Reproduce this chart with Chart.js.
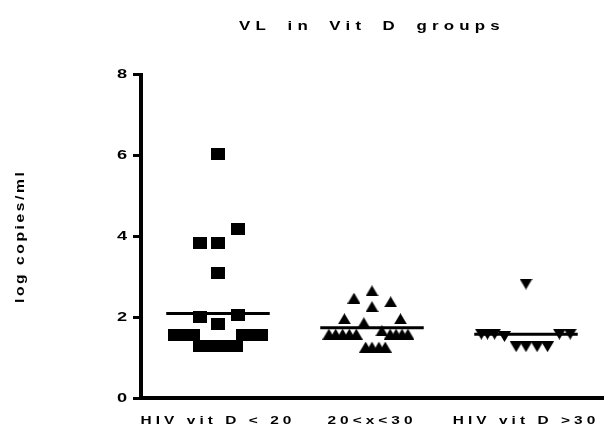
<!DOCTYPE html>
<html><head><meta charset="utf-8">
<script src="https://cdn.jsdelivr.net/npm/chart.js@4"></script>
<style>html,body{margin:0;padding:0;background:#fff;overflow:hidden;}</style>
</head><body>
<canvas id="c" width="611" height="430"></canvas>
<script>
// ---- data ----
const categories = ['HIV vit D < 20', '20<x<30', 'HIV vit D >30'];
const yTicks = [0, 2, 4, 6, 8];
const chartTitle = 'VL in Vit D groups';
const yTitle = 'log copies/ml';

const group1Values  = [6.04, 4.19, 3.83, 3.83, 3.08, 2.01, 2.06, 1.84, 1.57, 1.57, 1.57, 1.57, 1.57, 1.57, 1.28, 1.28, 1.28, 1.28, 1.28];
const group1Offsets = [0, 0.13, -0.12, 0, 0, -0.12, 0.13, 0, -0.28, -0.22, -0.16, 0.16, 0.22, 0.28, -0.12, -0.06, 0, 0.06, 0.12];

const group2Values  = [2.65, 2.47, 2.38, 2.26, 1.96, 1.86, 1.96, 1.58, 1.58, 1.58, 1.58, 1.58, 1.66, 1.58, 1.58, 1.58, 1.58, 1.26, 1.26, 1.26, 1.26];
const group2Offsets = [0, -0.117, 0.121, 0, -0.179, -0.053, 0.185, -0.28, -0.236, -0.191, -0.147, -0.102, 0.064, 0.118, 0.156, 0.195, 0.233, -0.041, 0, 0.045, 0.086];

const group3Values  = [2.82, 1.58, 1.58, 1.58, 1.52, 1.27, 1.27, 1.27, 1.27, 1.58, 1.58];
const group3Offsets = [0, -0.29, -0.25, -0.204, -0.14, -0.064, 0, 0.072, 0.14, 0.217, 0.287];

const groupMeans = [2.09, 1.74, 1.58];

// ---- styling ----
const FONT = '"Liberation Sans", Arial, Helvetica, sans-serif';
const MEAN_HALF_WIDTH = 0.336;

function marker(kind, w, h) {
  const c = document.createElement('canvas');
  c.width = w; c.height = h;
  const g = c.getContext('2d');
  g.fillStyle = '#000';
  g.beginPath();
  if (kind === 'square') { g.rect(0, 0, w, h); }
  else if (kind === 'up') { g.moveTo(w / 2, 0); g.lineTo(w, h); g.lineTo(0, h); g.closePath(); }
  else { g.moveTo(0, 0); g.lineTo(w, 0); g.lineTo(w / 2, h); g.closePath(); }
  g.fill();
  return c;
}
const squareMark = marker('square', 14, 12);
const upMark = marker('up', 13, 11);
const downMark = marker('down', 13, 11);

function pts(center, values, offsets) {
  return values.map((v, i) => ({ x: center + offsets[i], y: v }));
}
function meanLine(i) {
  return {
    type: 'line',
    data: [{ x: i - MEAN_HALF_WIDTH, y: groupMeans[i] }, { x: i + MEAN_HALF_WIDTH, y: groupMeans[i] }],
    borderColor: '#000', borderWidth: 3, pointRadius: 0, fill: false, order: 0
  };
}

// text drawn by the given method gets letter/word spacing and a horizontal stretch
function patch(obj, method, ls, ws, sx) {
  if (!obj || obj['_p_' + method]) return;
  const orig = obj[method];
  obj[method] = function (...args) {
    const ctx = this.ctx;
    ctx.save();
    ctx.letterSpacing = ls;
    ctx.wordSpacing = ws;
    const baseFill = CanvasRenderingContext2D.prototype.fillText;
    ctx.fillText = function (t, x, y) {
      this.save();
      this.translate(x, y);
      this.scale(sx, 1);
      baseFill.call(this, t, 0, 0);
      this.restore();
    };
    try { orig.apply(this, args); } finally {
      delete ctx.fillText;
      ctx.restore();
    }
  };
  obj['_p_' + method] = true;
}
const textSpacing = {
  id: 'textSpacing',
  afterLayout(chart) {
    patch(chart.scales.x, 'drawLabels', '2.9px', '0px', 1.4);
    patch(chart.scales.y, 'drawLabels', '0px', '0px', 1.4);
    patch(chart.scales.y, 'drawTitle', '2px', '0px', 1.3);
    patch(chart.titleBlock, 'draw', '4px', '5px', 1.3);
  }
};

Chart.defaults.color = '#000';
Chart.defaults.font.family = FONT;

new Chart(document.getElementById('c'), {
  type: 'scatter',
  data: {
    datasets: [
      { data: pts(0, group1Values, group1Offsets), pointStyle: squareMark, pointRadius: 7, order: 1 },
      { data: pts(1, group2Values, group2Offsets), pointStyle: upMark, pointRadius: 7, order: 1 },
      { data: pts(2, group3Values, group3Offsets), pointStyle: downMark, pointRadius: 7, order: 1 },
      meanLine(0), meanLine(1), meanLine(2)
    ]
  },
  options: {
    responsive: false,
    animation: false,
    events: [],
    devicePixelRatio: 1,
    layout: { padding: { left: 0, top: 0, bottom: 0, right: -2 } },
    plugins: {
      legend: { display: false },
      tooltip: { enabled: false },
      title: {
        display: true, text: chartTitle, fullSize: false, color: '#000',
        font: { size: 13, weight: 'bold', family: FONT },
        padding: { top: 19, bottom: 40 }
      }
    },
    scales: {
      x: {
        type: 'linear', min: -0.5, max: 2.5,
        afterBuildTicks: s => { s.ticks = categories.map((c, i) => ({ value: i })); },
        afterFit: s => { s.height = 32; },
        ticks: {
          callback: v => categories[v], maxRotation: 0, minRotation: 0, autoSkip: false,
          padding: 16, color: '#000', font: { size: 11, weight: 'bold', family: FONT }
        },
        grid: { display: false, drawTicks: false, tickLength: 0 },
        border: { display: true, color: '#000', width: 4 }
      },
      y: {
        min: 0, max: 8,
        afterBuildTicks: s => { s.ticks = yTicks.map(v => ({ value: v })); },
        afterFit: s => { s.width = 141; },
        ticks: { padding: 6, color: '#000', font: { size: 13, weight: 'bold', family: FONT } },
        grid: { display: true, drawOnChartArea: false, drawTicks: true, tickLength: 8, tickWidth: 3, tickColor: '#000' },
        border: { display: true, color: '#000', width: 4 },
        title: { display: true, text: yTitle, color: '#000', font: { size: 12, weight: 'bold', family: FONT }, padding: { top: 13, bottom: 0 } }
      }
    }
  },
  plugins: [textSpacing]
});
</script>
</body></html>
